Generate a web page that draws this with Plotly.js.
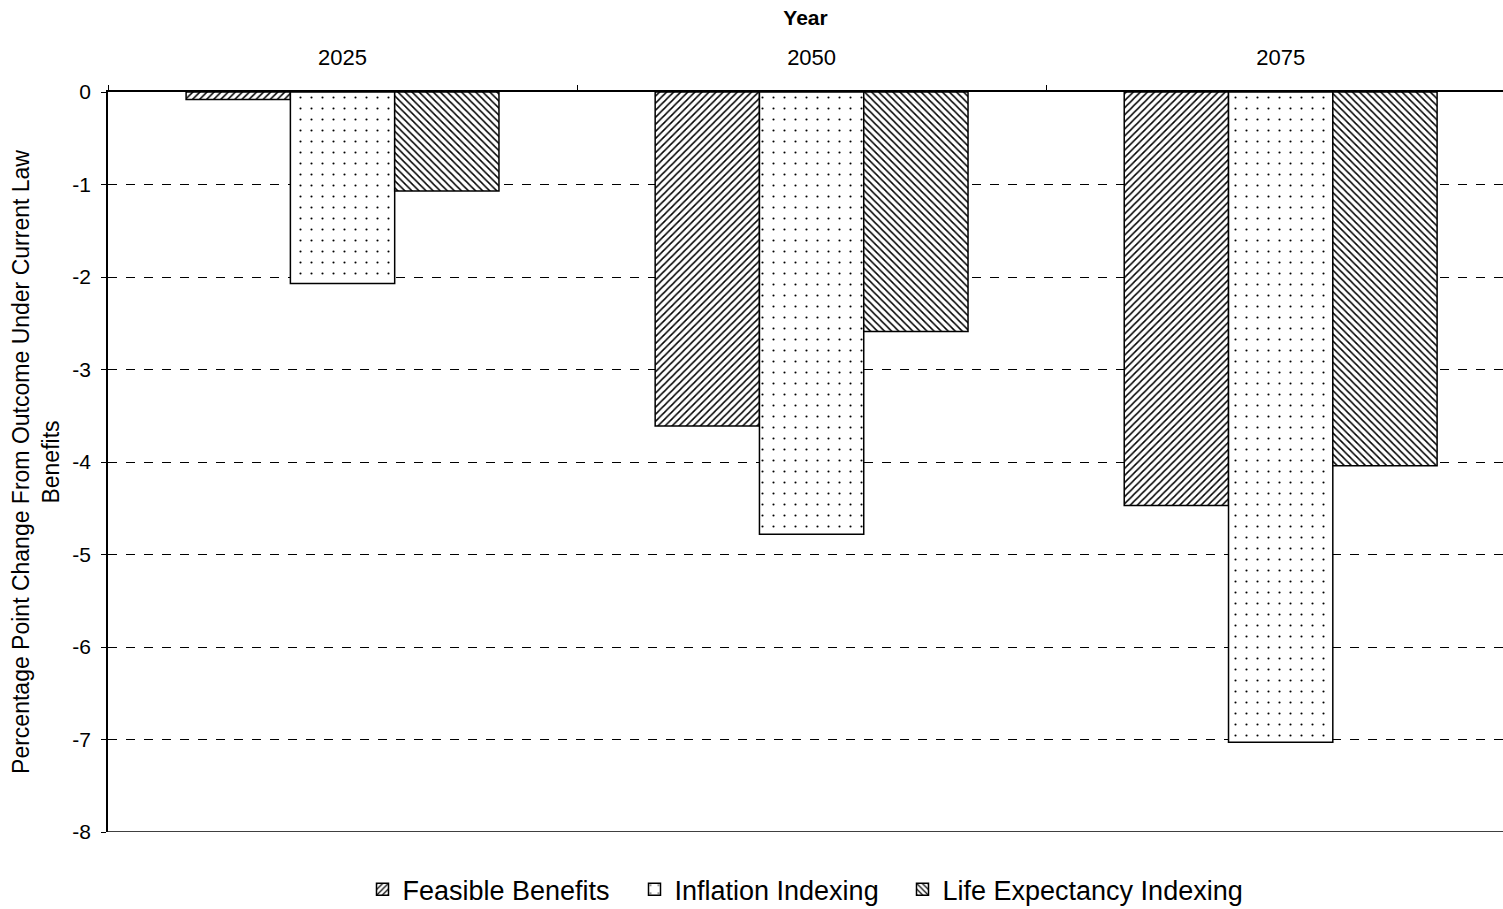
<!DOCTYPE html>
<html>
<head>
<meta charset="utf-8">
<script src="https://cdn.plot.ly/plotly-3.0.1.min.js"></script>
<style>html,body{margin:0;padding:0;background:#fff}#chart{width:1503px;height:909px}</style>
</head>
<body>
<div id="chart"></div>
<script>
const years = ['2025', '2050', '2075'];
const feasibleBenefits = [-0.08, -3.61, -4.47];
const inflationIndexing = [-2.07, -4.78, -7.03];
const lifeExpectancyIndexing = [-1.07, -2.59, -4.04];
const yTicks = [0, -1, -2, -3, -4, -5, -6, -7, -8];

const lineStyle = {color: '#000', width: 1.5};
const traces = [
  {type: 'bar', name: 'Feasible Benefits', x: years, y: feasibleBenefits, legendwidth: 227,
   marker: {color: '#fff', line: lineStyle, pattern: {shape: '/', fgcolor: '#000', bgcolor: '#fff', size: 5, solidity: 0.3}}},
  {type: 'bar', name: 'Inflation Indexing', x: years, y: inflationIndexing, legendwidth: 223,
   marker: {color: '#fff', line: lineStyle, pattern: {shape: '.', fgcolor: '#000', bgcolor: '#fff', size: 11, solidity: 0.03}}},
  {type: 'bar', name: 'Life Expectancy Indexing', x: years, y: lifeExpectancyIndexing,
   marker: {color: '#fff', line: lineStyle, pattern: {shape: '\\', fgcolor: '#000', bgcolor: '#fff', size: 5, solidity: 0.3}}}
];

const layout = {
  width: 1503, height: 909,
  margin: {l: 108, r: 0, t: 92, b: 77, autoexpand: false},
  paper_bgcolor: '#fff', plot_bgcolor: '#fff',
  font: {family: 'Liberation Sans, Arial, sans-serif', color: '#000', size: 20},
  barmode: 'group', bargap: 0.333, bargroupgap: 0,
  showlegend: true,
  legend: {orientation: 'h', x: 0.5, xanchor: 'center', y: -0.078, yanchor: 'middle',
           font: {size: 27, family: 'Liberation Sans, Arial, sans-serif'}, itemwidth: 30, traceorder: 'normal'},
  xaxis: {
    side: 'top', type: 'category', range: [-0.5, 2.474],
    title: {text: '<b>Year</b>', font: {size: 21}, standoff: 14},
    showline: true, linecolor: '#000', linewidth: 1.5,
    ticks: 'outside', tickson: 'boundaries', ticklen: 5, tickcolor: '#000',
    ticklabelstandoff: 16,
    tickfont: {size: 22}, showgrid: false
  },
  yaxis: {
    range: [-8, 0], tickvals: yTicks, ticktext: yTicks.map(String),
    showline: true, linecolor: '#000', linewidth: 1.5,
    ticks: 'outside', ticklen: 5, tickcolor: '#000', tickfont: {size: 21},
    ticklabelstandoff: 6,
    showgrid: true, gridcolor: '#000', griddash: 'dash', gridwidth: 1.2,
    zeroline: false,
    title: {text: 'Percentage Point Change From Outcome Under Current Law<br>Benefits', font: {size: 23}, standoff: 6}
  },
  shapes: [
    {type: 'line', xref: 'paper', yref: 'y', x0: 0, x1: 1, y0: -8, y1: -8, line: {color: '#000', width: 1.5}}
  ]
};

Plotly.newPlot('chart', traces, layout, {displayModeBar: false});
</script>
</body>
</html>
